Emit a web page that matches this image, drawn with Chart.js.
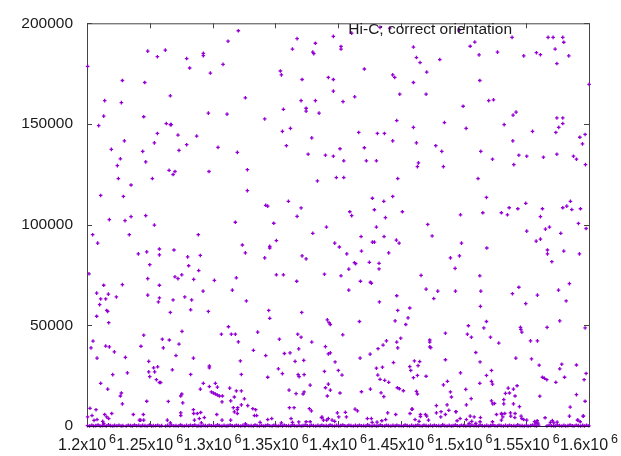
<!DOCTYPE html>
<html><head><meta charset="utf-8">
<script src="https://cdn.jsdelivr.net/npm/chart.js@4"></script>
<style>html,body{margin:0;padding:0;background:#fff;}#wrap{width:621px;height:456px;}</style>
</head><body><div id="wrap"><canvas id="c" width="621" height="456"></canvas></div>
<script>
const seriesLabel = "Hi-C; correct orientation";
const xTickValues = [1200000,1250000,1300000,1350000,1400000,1450000,1500000,1550000,1600000];
const xTickLabels = ["1.2x10","1.25x10","1.3x10","1.35x10","1.4x10","1.45x10","1.5x10","1.55x10","1.6x10"];
const xTickExponent = "6";
const yTickValues = [0,50000,100000,150000,200000];

const scatterUpperLeft = [[1200500,178600],[1228200,171600],[1246000,170600],[1248400,186200],[1256100,183400],[1262400,186700],[1279400,182500],[1281800,177800],[1292700,185100],[1292700,183900],[1298300,175300],[1308400,179600],[1312400,191100],[1320600,196300],[1326200,163000],[1214100,161600],[1227400,160600],[1266400,164000],[1213300,153900],[1209300,149200],[1245200,153600],[1263200,150200],[1266400,149700],[1267200,149700],[1256100,145300],[1229800,141600],[1219400,137400],[1253700,140600],[1272500,144500],[1287400,144000],[1279400,139700],[1273300,136900],[1244400,136400],[1246800,131200],[1226600,132700],[1224200,129300],[1225000,122900],[1235100,119700],[1252100,122900],[1265400,127000],[1270100,126400],[1268600,124900],[1296700,155400],[1311600,154900],[1304400,138400],[1319800,135900],[1297200,126400],[1327800,127300],[1327800,116900],[1210900,114500],[1229000,114000],[1217800,102500],[1230300,102000],[1235100,104000],[1246800,104500],[1253700,99800],[1318200,101200],[1342400,109600],[1344000,109200],[1348800,100700],[1360500,111600],[1367400,104100],[1370600,108300],[1379900,95700],[1341600,152500],[1354100,176300],[1354900,174400],[1363700,187200],[1367400,192400],[1371400,172100],[1370600,161600],[1356500,157300],[1374600,157800],[1374600,156400],[1382000,161600],[1379900,185700],[1380700,184900],[1382000,190100],[1384900,155400],[1355700,146300],[1362100,147800],[1358900,139200],[1379100,143100],[1376200,135000],[1383600,121700]];

const scatterUpperRight = [[1396300,193500],[1402400,188500],[1402400,187200],[1421000,177300],[1392300,173100],[1396300,172100],[1396300,166300],[1404000,161100],[1413300,163500],[1410900,195100],[1433500,198000],[1441200,197600],[1443600,174400],[1445200,173100],[1449200,164800],[1460100,188200],[1462500,183000],[1465400,180500],[1470700,175800],[1460100,170600],[1470200,164800],[1481100,182000],[1496800,196600],[1505300,188600],[1509000,190700],[1512400,184300],[1513000,171600],[1527100,185700],[1538700,193000],[1548000,183800],[1558100,185400],[1561300,184400],[1567400,193000],[1571400,193000],[1579100,193000],[1579900,190600],[1573000,187200],[1574400,180000],[1583900,183800],[1600100,169700],[1499700,158800],[1520100,161600],[1523900,162000],[1539500,154400],[1541900,155900],[1446800,151700],[1460100,148300],[1484800,150700],[1502100,147800],[1532400,149700],[1555000,146300],[1574400,153000],[1579100,153000],[1575900,148300],[1579100,150200],[1573600,145800],[1592700,143400],[1596900,144800],[1594800,140100],[1597200,129800],[1587600,134000],[1590000,132500],[1416500,145800],[1431400,145300],[1437000,145300],[1443600,141600],[1421000,138200],[1401600,137700],[1390000,134500],[1396300,134000],[1404600,131700],[1422600,131700],[1430600,131700],[1462500,140600],[1477900,139200],[1482700,136400],[1464100,130700],[1463300,128800],[1484000,128800],[1513800,136400],[1523100,132500],[1539300,141600],[1544100,134500],[1550400,134000],[1563700,133500],[1574400,135000],[1540100,129800],[1398700,123400],[1404600,123400],[1447600,122900],[1511600,122900],[1427400,113100],[1436500,111600],[1443600,114000],[1518300,113500],[1549600,110600],[1582300,109200],[1585200,111600],[1579100,108400],[1586300,107500],[1593200,107900],[1409400,106400],[1410900,104500],[1429000,107400],[1437800,103500],[1451300,106400],[1497600,104900],[1515400,105900],[1530200,105900],[1535000,104900],[1536400,108400],[1543300,107900],[1562900,107900],[1561300,104000],[1591600,100600],[1597700,98100],[1390800,98800],[1430600,98800],[1471500,100100],[1550400,96800],[1565300,97800],[1568500,98800],[1577500,95700]];

const scatterLowerLeft = [[1204500,95000],[1208500,90800],[1233700,95000],[1288700,95000],[1201600,75600],[1207700,66000],[1213300,69900],[1210900,63100],[1210100,60300],[1214900,63100],[1217000,65500],[1215700,57400],[1216500,56900],[1207700,54500],[1217300,51300],[1223400,64100],[1228200,70200],[1204800,42200],[1203200,38800],[1208000,33700],[1214900,39700],[1217800,39300],[1221800,36800],[1210900,21200],[1216500,18300],[1220500,25500],[1230600,34100],[1232200,26400],[1227400,16400],[1226600,14900],[1228200,11000],[1202400,8800],[1207200,8100],[1204000,5200],[1200500,4500],[1208000,3200],[1205600,2800],[1214100,5700],[1215700,4500],[1217300,3700],[1219700,6200],[1212500,2300],[1213300,1300],[1236900,5700],[1240900,85500],[1247600,86500],[1250000,80100],[1248400,73200],[1248400,65000],[1257700,87900],[1257700,85000],[1257700,69900],[1257700,63600],[1256900,61600],[1243000,39600],[1245200,45100],[1249200,32100],[1249200,26900],[1250000,24500],[1253100,28900],[1253900,26900],[1256300,29400],[1255300,23000],[1257700,21600],[1258700,21600],[1260000,43100],[1260800,38800],[1247600,12300],[1241700,2900],[1242800,2900],[1245200,2900],[1244900,5700],[1265600,42700],[1266400,56400],[1268600,62600],[1269300,87400],[1270100,74100],[1272500,73200],[1268000,27900],[1270900,35000],[1273300,40700],[1275700,47000],[1275500,75100],[1277900,64100],[1280200,84000],[1281000,79600],[1282600,57700],[1283400,62600],[1285000,72800],[1289000,77200],[1290300,84700],[1292500,67000],[1296700,56900],[1301500,72300],[1284800,33700],[1282600,25600],[1275500,15900],[1274700,14900],[1276300,11500],[1274700,6500],[1274700,5200],[1264800,12200],[1264000,2900],[1266400,1600],[1284800,8100],[1285000,6200],[1287900,6200],[1290600,6700],[1289500,3700],[1293500,4200],[1285600,2900],[1291100,1600],[1292700,21200],[1290300,18300],[1297500,29800],[1297500,28900],[1297500,19600],[1299100,16900],[1300700,16400],[1302300,21200],[1303900,19300],[1302300,15900],[1303900,15400],[1305500,14900],[1307900,14900],[1307100,45600],[1307600,12000],[1312700,49300],[1315000,45600],[1318200,45600],[1313700,18800],[1314500,12500],[1317400,14400],[1316600,9100],[1317400,7000],[1319000,17400],[1323000,17400],[1319800,8100],[1319800,6200],[1320600,41800],[1322200,32300],[1323000,25600],[1323000,10500],[1325400,13500],[1326200,1100],[1315800,67500],[1319000,73600],[1323800,89900],[1326200,86000],[1327000,62100],[1328100,10100],[1332600,37600],[1332100,8600],[1334400,8100],[1333400,5200],[1335200,5200],[1336000,46600],[1337900,1800],[1341600,83500],[1342400,35000],[1344000,24200],[1344000,3200],[1347200,3700],[1344800,57400],[1345600,53500],[1345600,89200],[1345600,88400],[1350900,92100],[1350900,75100],[1356500,75100],[1353300,43100],[1352500,28400],[1355700,26000],[1357300,36000],[1361000,17800],[1361800,36300],[1361300,9100],[1365000,9100],[1362600,3700],[1365800,32100],[1367100,71900],[1367900,45600],[1368700,38300],[1366600,16100],[1368200,25500],[1369000,24500],[1370600,44100],[1371400,84500],[1371100,56400],[1372200,15900],[1372700,32600],[1373000,25500],[1373000,16900],[1374600,83000],[1377200,8600],[1378800,7500],[1377800,20300],[1379100,41700],[1374600,2100],[1377800,2100],[1368700,2000],[1363700,1800],[1303400,5700],[1307600,2900],[1314500,2900],[1354900,1600],[1320100,9100]];

const scatterLowerRight = [[1397400,90800],[1401100,88900],[1407000,85500],[1402400,74600],[1389200,75400],[1408600,77900],[1413100,81100],[1414100,80600],[1408600,67500],[1418400,94100],[1418700,86900],[1417900,71900],[1425000,81300],[1425800,71400],[1426600,70900],[1427400,91300],[1429000,91300],[1432700,80800],[1432700,78000],[1433000,61600],[1436700,94100],[1440400,86000],[1446500,92300],[1448700,90800],[1446800,64700],[1447600,57400],[1445500,52200],[1457200,58600],[1455800,53700],[1454000,50400],[1450000,43600],[1446800,41700],[1447600,38800],[1438600,42300],[1435900,40200],[1431900,38400],[1417100,51900],[1403800,45300],[1391500,52700],[1392900,51300],[1393900,50400],[1390000,39400],[1392300,35800],[1393900,36300],[1397700,31800],[1400300,27600],[1389200,27100],[1403200,25300],[1390000,19000],[1392300,20800],[1391500,14900],[1393900,17800],[1401600,16400],[1417600,33700],[1418700,17000],[1425600,35700],[1425800,18300],[1430600,28700],[1435400,29200],[1431700,25300],[1433500,23200],[1437200,22700],[1440400,21700],[1434300,16500],[1436500,14600],[1444200,31500],[1447300,19000],[1448900,18500],[1452100,17500],[1458800,8400],[1457200,29500],[1458000,27600],[1460900,32300],[1465100,32000],[1463800,30000],[1460100,24000],[1463300,25100],[1462500,17200],[1463300,15900],[1466200,74800],[1470200,68000],[1470200,24700],[1475000,94400],[1476300,63300],[1479500,67000],[1473100,42700],[1473100,41700],[1473100,39300],[1473900,38900],[1478400,10100],[1484000,20400],[1487200,22200],[1485600,46100],[1485600,32900],[1486900,10500],[1488300,7800],[1489600,16900],[1490400,14400],[1489600,83500],[1493300,78300],[1496800,84500],[1493600,67000],[1498400,90800],[1497600,26400],[1494100,7100],[1501800,18200],[1502300,10500],[1503900,49800],[1506300,44100],[1503100,45600],[1506100,13600],[1509800,36500],[1513000,74600],[1513800,67000],[1513500,59400],[1513200,31800],[1513000,21200],[1516200,48700],[1518300,51900],[1518600,88400],[1518300,25100],[1522300,27600],[1522300,22200],[1523100,20800],[1521500,44100],[1528100,41200],[1522300,12500],[1523300,11000],[1524700,11200],[1532100,13100],[1532100,11000],[1533400,16200],[1535600,18800],[1536600,16400],[1539800,18300],[1542700,20000],[1541100,14900],[1539800,11000],[1539000,65700],[1544100,68900],[1541700,33700],[1545400,49000],[1545700,48000],[1546500,46600],[1549600,60800],[1544600,9600],[1553400,42300],[1558900,42300],[1554200,33300],[1560300,30200],[1558900,65000],[1557900,91800],[1561300,92800],[1566900,87400],[1566900,85500],[1570400,81600],[1566600,49000],[1562900,24200],[1564500,23700],[1566400,23000],[1573600,21700],[1560800,14800],[1575700,67500],[1579900,86900],[1576700,52200],[1576700,28400],[1578300,30700],[1580500,24200],[1581800,62100],[1584400,70700],[1585000,9400],[1590000,30300],[1590000,15600],[1592400,85500],[1596900,48700],[1597700,26100],[1596100,23000],[1596900,12300],[1595300,4900],[1584400,4900],[1591100,2900],[1593000,2100],[1386800,4200],[1388400,2900],[1392300,3700],[1395300,2900],[1397400,2300],[1399500,6500],[1400600,4500],[1405900,6800],[1406700,4500],[1413600,8400],[1415500,7500],[1423400,3700],[1426600,3700],[1427200,1800],[1431100,1900],[1434900,2600],[1438000,3200],[1439600,6500],[1446000,5700],[1457400,6200],[1459300,8400],[1461400,3200],[1464600,2300],[1465700,5700],[1465700,4700],[1469700,5700],[1470700,4900],[1472100,2900],[1478400,6500],[1481900,4500],[1482100,7100],[1485600,5700],[1493800,7100],[1494900,2600],[1497300,3700],[1502300,3200],[1504500,1300],[1505300,4900],[1506600,2300],[1508500,4500],[1509800,1300],[1513500,4200],[1513200,2100],[1523100,2100],[1526300,5700],[1530200,6200],[1530500,5800],[1530200,2900],[1531300,4500],[1532900,6200],[1537400,6500],[1537700,4900],[1541100,6200],[1540900,4200],[1545900,4900],[1546500,3700],[1548000,3200],[1550400,2900],[1557900,1600],[1565000,4100],[1574600,1900],[1590800,2900],[1595600,4900],[1387300,4400],[1391000,2900],[1556600,2200],[1557400,1500],[1558700,2600],[1559300,1400],[1569300,1800],[1570800,2700],[1572000,1600]];

const baselinePoints = [[1200400,200],[1202100,0],[1203900,400],[1205300,0],[1207000,200],[1208800,500],[1210500,0],[1212200,100],[1213600,300],[1215400,0],[1217100,600],[1218900,200],[1220600,0],[1222000,300],[1223800,100],[1225500,400],[1227200,0],[1228600,200],[1231200,0],[1232900,400],[1234700,200],[1236100,0],[1237800,500],[1239600,100],[1241300,300],[1243000,0],[1244400,300],[1246200,200],[1247900,0],[1249700,500],[1251400,0],[1252800,200],[1254600,100],[1256300,400],[1258000,0],[1259500,200],[1262600,0],[1264300,300],[1266000,0],[1267400,400],[1269200,100],[1270900,200],[1272700,0],[1274400,500],[1275800,200],[1277500,0],[1279300,300],[1281000,0],[1282400,400],[1284200,100],[1285900,500],[1287700,0],[1289100,200],[1290800,0],[1292600,300],[1294300,200],[1296000,0],[1297400,400],[1299100,100],[1300900,300],[1302600,0],[1304000,600],[1305700,200],[1307500,0],[1309200,300],[1310900,0],[1312300,200],[1314100,500],[1315800,100],[1317600,0],[1319000,400],[1320700,200],[1322500,0],[1324200,300],[1325900,0],[1327300,400],[1329000,100],[1330800,200],[1332500,0],[1333900,500],[1335600,200],[1337400,0],[1339100,300],[1340800,0],[1342200,200],[1344000,500],[1345700,100],[1347500,0],[1348900,400],[1350600,200],[1352400,0],[1354100,300],[1355800,0],[1357200,400],[1358900,100],[1360700,200],[1362400,0],[1363800,600],[1365500,200],[1367300,0],[1369000,300],[1370700,0],[1372100,200],[1373900,500],[1375600,100],[1377400,0],[1378800,400],[1380500,200],[1382300,0],[1384000,300],[1385700,0],[1387100,400],[1388800,100],[1390600,200],[1392300,0],[1393700,500],[1395400,200],[1397200,0],[1398900,300],[1400600,0],[1402000,200],[1403800,500],[1405500,100],[1407300,0],[1408700,400],[1410400,200],[1412200,0],[1413900,300],[1415600,0],[1417000,400],[1418700,100],[1420500,200],[1422200,0],[1423600,600],[1425300,200],[1427100,0],[1428800,300],[1430500,0],[1431900,200],[1433700,500],[1435400,100],[1437200,0],[1438600,400],[1440300,200],[1442100,0],[1443800,300],[1445500,0],[1446900,400],[1448600,100],[1450400,200],[1452100,0],[1453500,500],[1455200,200],[1457000,0],[1458700,300],[1460400,0],[1461800,200],[1463600,500],[1465300,100],[1467100,0],[1468500,400],[1470200,200],[1472000,0],[1473700,300],[1475400,0],[1476800,400],[1478500,100],[1480300,200],[1482000,0],[1483400,600],[1485100,200],[1486900,0],[1488600,300],[1490300,0],[1491700,200],[1493500,500],[1495200,100],[1497000,0],[1498400,400],[1500100,200],[1501900,0],[1503600,300],[1505300,0],[1506700,400],[1508400,100],[1510200,200],[1511900,0],[1513300,500],[1515000,200],[1516800,0],[1518500,300],[1520200,0],[1521600,200],[1523400,500],[1525100,100],[1526900,0],[1528300,400],[1530000,200],[1531800,0],[1533500,300],[1535200,0],[1536600,400],[1538300,100],[1540100,200],[1541800,0],[1543200,600],[1545000,200],[1546700,200],[1548400,0],[1550100,300],[1551500,0],[1553300,200],[1555000,500],[1556800,100],[1558200,0],[1559900,400],[1566500,0],[1568200,400],[1570000,100],[1571700,200],[1573100,0],[1574800,500],[1576600,200],[1578300,0],[1580000,300],[1581400,0],[1583200,200],[1584900,500],[1586700,100],[1588100,0],[1589800,400],[1591600,200],[1593300,0],[1595000,300],[1596400,0],[1598100,400],[1599900,100]];

const FONT = '"Liberation Sans", Arial, Helvetica, sans-serif';
const TEXT_COLOR = '#1a1a1a';
const POINT_COLOR = '#9400d3';

const allPoints = [].concat(scatterUpperLeft, scatterUpperRight, scatterLowerLeft, scatterLowerRight, baselinePoints)
  .map(p => ({x: p[0], y: p[1]}));

const framePlugin = {
  id: 'frame',
  beforeDatasetsDraw(chart) {
    const {ctx, chartArea: a, scales: {x, y}} = chart;
    ctx.save();
    ctx.strokeStyle = '#444444';
    ctx.lineWidth = 1;
    ctx.strokeRect(a.left + 0.5, a.top + 0.5, a.right - a.left, a.bottom - a.top);
    ctx.beginPath();
    xTickValues.forEach(v => {
      const px = Math.round(x.getPixelForValue(v)) + 0.5;
      ctx.moveTo(px, a.top); ctx.lineTo(px, a.top + 5);
      ctx.moveTo(px, a.bottom); ctx.lineTo(px, a.bottom - 5);
    });
    yTickValues.forEach(v => {
      const py = Math.round(y.getPixelForValue(v)) + 0.5;
      ctx.moveTo(a.left, py); ctx.lineTo(a.left + 5, py);
      ctx.moveTo(a.right, py); ctx.lineTo(a.right - 5, py);
    });
    ctx.stroke();
    ctx.restore();
  },
  afterDatasetsDraw(chart) {
    const {ctx, chartArea: a} = chart;
    ctx.save();
    ctx.strokeStyle = '#2e0b40';
    ctx.lineWidth = 1;
    ctx.beginPath();
    ctx.moveTo(a.left, a.bottom + 0.5);
    ctx.lineTo(a.right + 1, a.bottom + 0.5);
    ctx.stroke();
    ctx.restore();
  },
  afterDraw(chart) {
    const {ctx, scales: {x}} = chart;
    ctx.save();
    ctx.fillStyle = TEXT_COLOR;
    ctx.textBaseline = 'alphabetic';
    ctx.textAlign = 'left';
    const mainFont = '16px ' + FONT, supFont = '12.5px ' + FONT;
    xTickValues.forEach((v, i) => {
      const px = x.getPixelForValue(v);
      ctx.font = mainFont;
      const wb = ctx.measureText(xTickLabels[i]).width;
      ctx.font = supFont;
      const ws = ctx.measureText(xTickExponent).width;
      const gap = 3;
      const start = px - (wb + gap + ws) / 2;
      ctx.font = mainFont;
      ctx.fillText(xTickLabels[i], start, 450);
      ctx.font = supFont;
      ctx.fillText(xTickExponent, start + wb + gap, 443);
    });
    ctx.font = '15.5px ' + FONT;
    ctx.textAlign = 'right';
    ctx.fillText(seriesLabel, 512, 34);
    ctx.restore();
  }
};

new Chart(document.getElementById('c'), {
  type: 'scatter',
  data: {
    datasets: [{
      label: seriesLabel,
      data: allPoints,
      pointStyle: 'cross',
      radius: 1.8,
      borderWidth: 1.3,
      borderColor: POINT_COLOR,
      backgroundColor: POINT_COLOR,
      clip: false
    }]
  },
  options: {
    responsive: false,
    animation: false,
    devicePixelRatio: 1,
    layout: {padding: {top: 15, right: 32, left: 0, bottom: 0}},
    plugins: {legend: {display: false}, tooltip: {enabled: false}},
    scales: {
      x: {
        type: 'linear', min: 1200000, max: 1600000,
        afterFit(s) { s.height = 30; },
        afterBuildTicks(s) { s.ticks = xTickValues.map(v => ({value: v})); },
        ticks: {display: false},
        grid: {display: false, drawTicks: false},
        border: {display: false}
      },
      y: {
        type: 'linear', min: 0, max: 200000,
        afterFit(s) { s.width = 87; },
        afterBuildTicks(s) { s.ticks = yTickValues.map(v => ({value: v})); },
        ticks: {
          font: {family: FONT, size: 15.5},
          color: TEXT_COLOR,
          padding: 14,
          callback: v => String(v)
        },
        grid: {display: false, drawTicks: false},
        border: {display: false}
      }
    }
  },
  plugins: [framePlugin]
});
</script>
</body></html>
